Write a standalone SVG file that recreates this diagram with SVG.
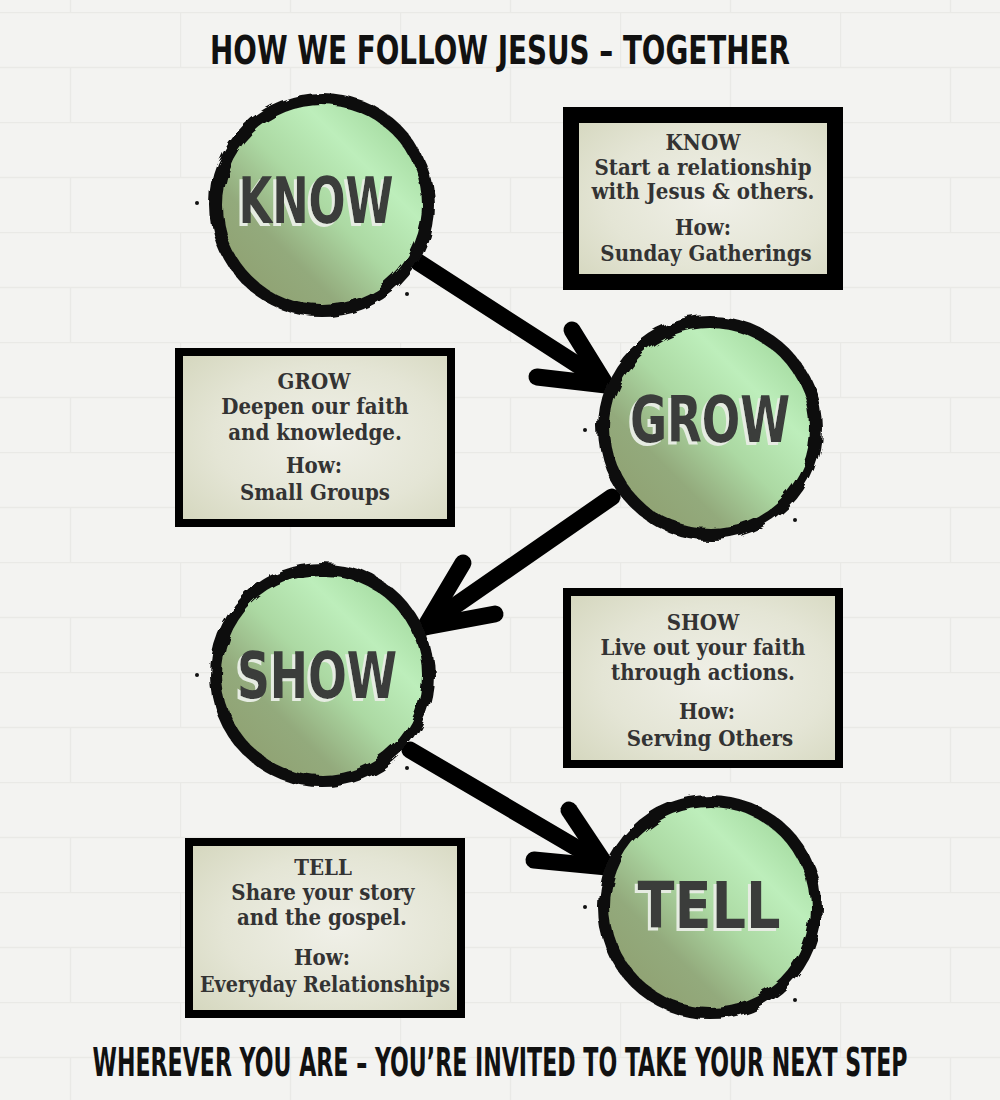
<svg xmlns="http://www.w3.org/2000/svg" width="1000" height="1100" viewBox="0 0 1000 1100">
  <defs>
    <pattern id="bricks" width="220" height="110" patternUnits="userSpaceOnUse" x="-40" y="12">
      <path d="M0 0.5H220M0 55.5H220M0.5 0V55M110.5 55V110" fill="none" stroke="#d9d9d6" stroke-width="1.4"/>
    </pattern>
    <linearGradient id="ball" x1="0" y1="1" x2="1" y2="0">
      <stop offset="0" stop-color="#8e9c6c"/>
      <stop offset="0.3" stop-color="#93aa7c"/>
      <stop offset="0.5" stop-color="#acd9a3"/>
      <stop offset="0.7" stop-color="#bdeebb"/>
      <stop offset="0.85" stop-color="#a9dea5"/>
      <stop offset="1" stop-color="#bbeeb8"/>
    </linearGradient>
    <radialGradient id="paper" cx="0.55" cy="0.5" r="0.7">
      <stop offset="0" stop-color="#f0f0e8"/>
      <stop offset="0.6" stop-color="#e4e5d5"/>
      <stop offset="1" stop-color="#d6d8c0"/>
    </radialGradient>
    <filter id="rough" x="-15%" y="-15%" width="130%" height="130%">
      <feTurbulence type="fractalNoise" baseFrequency="0.05" numOctaves="2" seed="4"/>
      <feDisplacementMap in="SourceGraphic" scale="9"/>
    </filter>
    <filter id="lift" x="-10%" y="-10%" width="120%" height="130%">
      <feOffset in="SourceAlpha" dx="-3" dy="3" result="off"/>
      <feFlood flood-color="#e6ece2"/>
      <feComposite in2="off" operator="in" result="sh"/>
      <feMerge><feMergeNode in="sh"/><feMergeNode in="SourceGraphic"/></feMerge>
    </filter>
    <style>
      .bg{fill:#f3f3f1}
      .ring{fill:none;stroke:#111;stroke-width:12}
      .ball{fill:url(#ball)}
      .lbl{font-family:"DejaVu Sans Condensed","DejaVu Sans",sans-serif;font-weight:bold;font-size:64px;text-anchor:middle;fill:#3a3d3a}
      .box{fill:url(#paper);stroke:#000}
      .bt{font-family:"DejaVu Serif Condensed","DejaVu Serif",serif;font-weight:bold;font-size:22px;fill:#333;text-anchor:middle}
      .head{font-family:"DejaVu Sans Condensed","DejaVu Sans",sans-serif;font-weight:bold;font-size:25px;fill:#111;text-anchor:middle}
      .arrow{fill:none;stroke:#000;stroke-linecap:round;stroke-linejoin:round}
      .dot{fill:#111}
    </style>
  </defs>

  <rect class="bg" x="0" y="0" width="1000" height="1100"/>
  <rect x="0" y="0" width="1000" height="1100" fill="url(#bricks)" opacity="0.4"/>

  <text class="head" transform="translate(500 64) scale(1 1.55)" x="0" y="0" textLength="580" lengthAdjust="spacingAndGlyphs">HOW WE FOLLOW JESUS – TOGETHER</text>

  <g id="connectors">
    <g id="arrow-know-grow" class="arrow">
      <path d="M418 262 L598 378" stroke-width="17"/>
      <path d="M606 385 L572 330" stroke-width="17"/>
      <path d="M606 385 L537 377" stroke-width="17"/>
    </g>
    <g id="arrow-grow-show" class="arrow">
      <path d="M612 497 L433 621" stroke-width="17"/>
      <path d="M425 627 L463 563" stroke-width="17"/>
      <path d="M425 627 L495 614" stroke-width="17"/>
    </g>
    <g id="arrow-show-tell" class="arrow">
      <path d="M410 750 L599 861" stroke-width="17"/>
      <path d="M607 867 L569 810" stroke-width="17"/>
      <path d="M607 867 L534 860" stroke-width="17"/>
    </g>
  </g>

  <g id="node-know">
    <circle class="ball" cx="322" cy="205" r="104"/>
    <circle class="ring" cx="322" cy="205" r="106" filter="url(#rough)"/>
    <circle class="dot" cx="197" cy="203" r="2"/>
    <circle class="dot" cx="407" cy="294" r="2"/>
    <text class="lbl" filter="url(#lift)" x="316" y="223" textLength="155" lengthAdjust="spacingAndGlyphs">KNOW</text>
  </g>

  <g id="box-know">
    <rect class="box" x="571" y="115" width="264" height="167" stroke-width="16"/>
    <text class="bt" x="703" y="150">KNOW</text>
    <text class="bt" x="703" y="175">Start a relationship</text>
    <text class="bt" x="703" y="199">with Jesus &amp; others.</text>
    <text class="bt" x="703" y="235">How:</text>
    <text class="bt" x="706" y="261">Sunday Gatherings</text>
  </g>

  <g id="node-grow">
    <circle class="ball" cx="710" cy="428" r="104"/>
    <circle class="ring" cx="710" cy="428" r="106" filter="url(#rough)"/>
    <circle class="dot" cx="585" cy="430" r="2"/>
    <circle class="dot" cx="795" cy="520" r="2"/>
    <text class="lbl" filter="url(#lift)" x="710" y="442" textLength="160" lengthAdjust="spacingAndGlyphs">GROW</text>
  </g>

  <g id="box-grow">
    <rect class="box" x="179" y="352" width="272" height="171" stroke-width="8"/>
    <text class="bt" x="314" y="389">GROW</text>
    <text class="bt" x="315" y="414">Deepen our faith</text>
    <text class="bt" x="315" y="440">and knowledge.</text>
    <text class="bt" x="314" y="473">How:</text>
    <text class="bt" x="315" y="500">Small Groups</text>
  </g>

  <g id="node-show">
    <circle class="ball" cx="322" cy="675" r="104"/>
    <circle class="ring" cx="322" cy="675" r="106" filter="url(#rough)"/>
    <circle class="dot" cx="197" cy="675" r="2"/>
    <circle class="dot" cx="407" cy="768" r="2"/>
    <text class="lbl" filter="url(#lift)" x="317" y="698" textLength="160" lengthAdjust="spacingAndGlyphs">SHOW</text>
  </g>

  <g id="box-show">
    <rect class="box" x="567" y="592" width="272" height="172" stroke-width="8"/>
    <text class="bt" x="703" y="630">SHOW</text>
    <text class="bt" x="703" y="655">Live out your faith</text>
    <text class="bt" x="703" y="680">through actions.</text>
    <text class="bt" x="707" y="719">How:</text>
    <text class="bt" x="710" y="746">Serving Others</text>
  </g>

  <g id="node-tell">
    <circle class="ball" cx="710" cy="907" r="104"/>
    <circle class="ring" cx="710" cy="907" r="106" filter="url(#rough)"/>
    <circle class="dot" cx="585" cy="907" r="2"/>
    <circle class="dot" cx="795" cy="1000" r="2"/>
    <text class="lbl" filter="url(#lift)" x="709" y="928" textLength="143" lengthAdjust="spacingAndGlyphs">TELL</text>
  </g>

  <g id="box-tell">
    <rect class="box" x="189" y="842" width="272" height="172" stroke-width="8"/>
    <text class="bt" x="323" y="875">TELL</text>
    <text class="bt" x="323" y="900">Share your story</text>
    <text class="bt" x="322" y="925">and the gospel.</text>
    <text class="bt" x="322" y="965">How:</text>
    <text class="bt" x="325" y="992" textLength="250" lengthAdjust="spacingAndGlyphs">Everyday Relationships</text>
  </g>

  <text class="head" transform="translate(500 1076) scale(1 1.55)" x="0" y="0" textLength="815" lengthAdjust="spacingAndGlyphs">WHEREVER YOU ARE – YOU’RE INVITED TO TAKE YOUR NEXT STEP</text>
</svg>
